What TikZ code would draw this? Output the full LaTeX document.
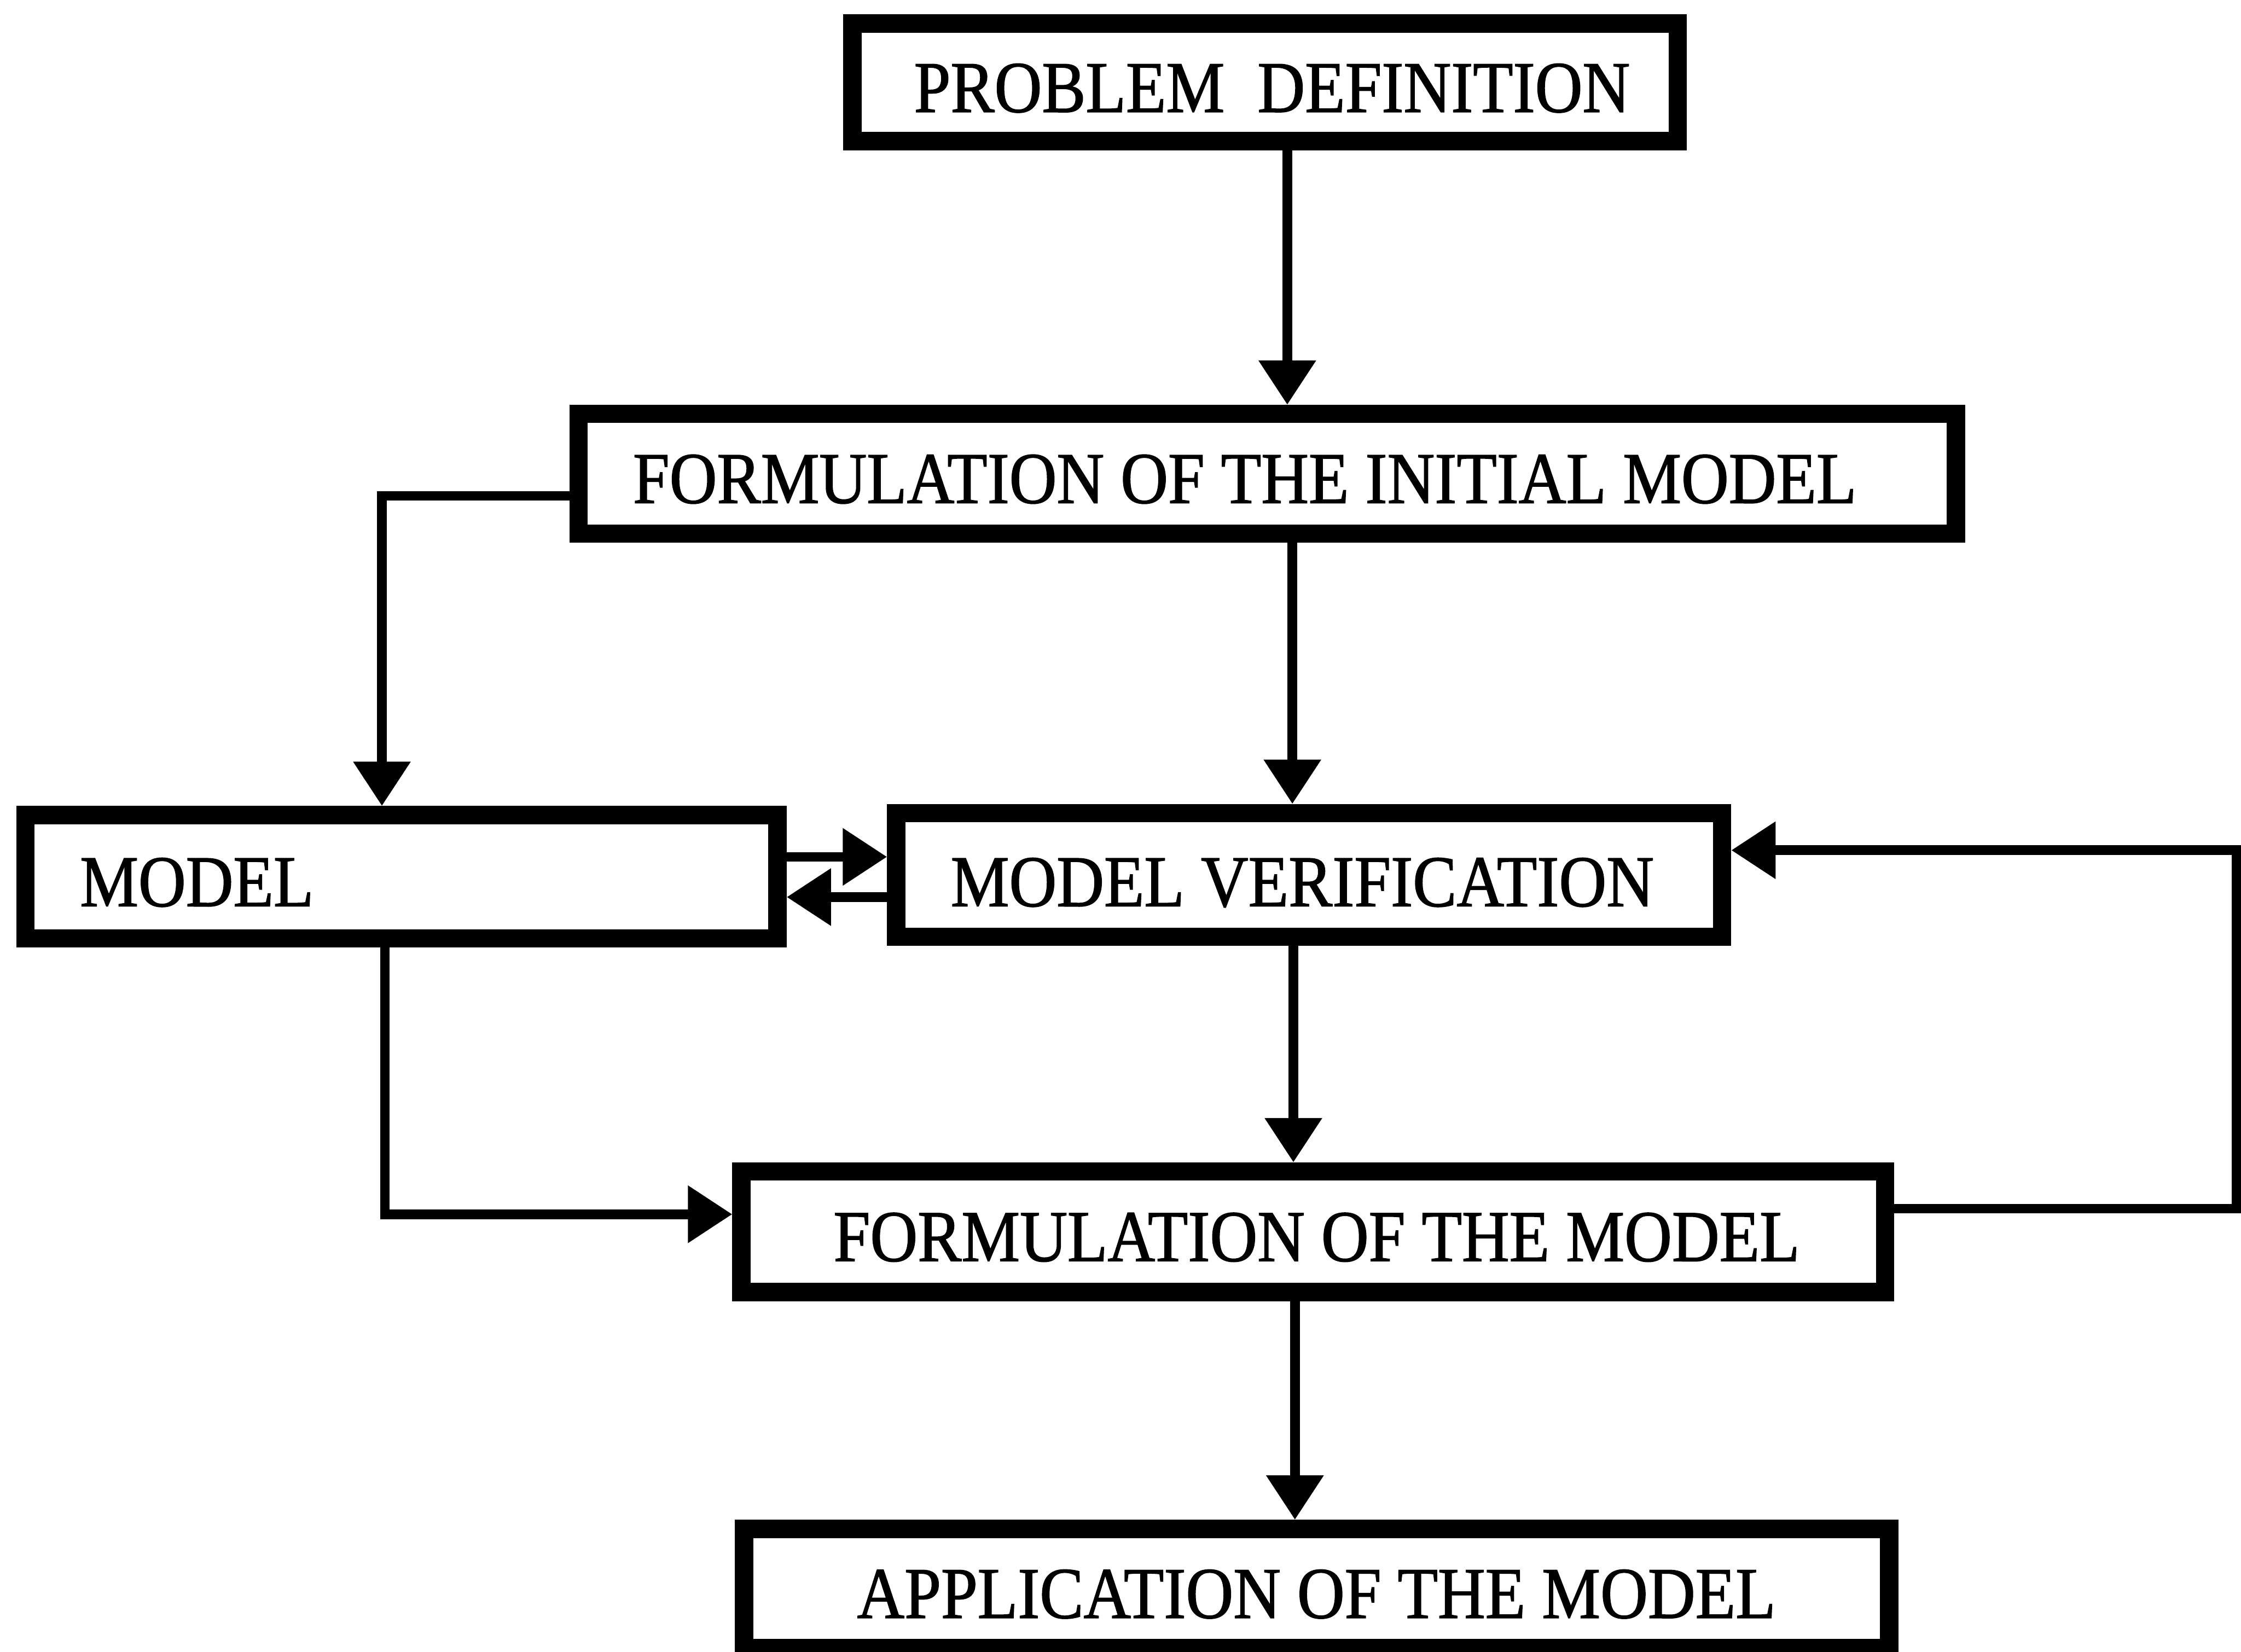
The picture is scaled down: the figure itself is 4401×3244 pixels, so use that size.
\documentclass[tikz,border=0pt]{standalone}
\usepackage{fontspec}
\newfontfamily\boxfont[FakeStretch=0.9,FakeBold=1.2]{Liberation Serif}
\usetikzlibrary{arrows.meta}

\begin{document}
\begin{tikzpicture}[x=0.1pt,y=-0.1pt,
  stage/.style={draw=black, line width=3.6pt, rectangle, inner sep=0pt},
  caption/.style={anchor=base west, inner sep=0pt,
    font=\boxfont\fontsize{14.35pt}{16pt}\selectfont},
  flow/.style={line width=1.9pt, -{Triangle[length=8.7pt,width=10.8pt]}}]

% page frame
\useasboundingbox (0,0) rectangle (4401,3244);
\clip (0,0) rectangle (4401,3244);
\fill[white] (0,0) rectangle (4401,3244);

% stages
\node[stage, minimum width=162.1pt, minimum height=23.1pt] (pd)    at (2484.5,161.5) {};
\node[stage, minimum width=270.5pt, minimum height=23.5pt] (fim)   at (2488.5,930.5) {};
\node[stage, minimum width=147.7pt, minimum height=24.2pt] (model) at (788.5,1722)   {};
\node[stage, minimum width=162.2pt, minimum height=24.3pt] (mv)    at (2571,1718.5)  {};
\node[stage, minimum width=224.6pt, minimum height=23.7pt] (fm)    at (2579,2419.5)  {};
\node[stage, minimum width=224.9pt, minimum height=23.4pt] (am)    at (2585.5,3120)  {};

% stage captions
\node[caption] (pdt)    at (1793,220)  {PROBLEM\ \ DEFINITION};
\node[caption] (fimt)   at (1241,988)  {FORMULATION OF THE INITIAL MODEL};
\node[caption] (modelt) at (155,1780)  {MODEL};
\node[caption] (mvt)    at (1865,1780) {MODEL VERIFICATION};
\node[caption] (fmt)    at (1635,2477) {FORMULATION OF THE MODEL};
\node[caption] (amt)    at (1681,3178) {APPLICATION OF THE MODEL};

% routing points
\coordinate (c1) at (2528,0);
\coordinate (c2) at (2538,0);
\coordinate (c3) at (2540,0);
\coordinate (c4) at (2543,0);
\coordinate (k1) at (750,974);
\coordinate (k2) at (756,2385);
\coordinate (up) at (0,1683);
\coordinate (dn) at (0,1762);
\coordinate (rt) at (4392,0);
\coordinate (fb1) at (0,2374);
\coordinate (fb2) at (0,1670);

% main flow
\draw[flow] (c1 |- pd.south)  -- (c1 |- fim.north);
\draw[flow] (c2 |- fim.south) -- (c2 |- mv.north);
\draw[flow] (c3 |- mv.south)  -- (c3 |- fm.north);
\draw[flow] (c4 |- fm.south)  -- (c4 |- am.north);

% side branch through MODEL
\draw[flow] (k1 -| fim.west) -- (k1) -- (k1 |- model.north);
\draw[flow] (k2 |- model.south) -- (k2) -- (k2 -| fm.west);

% exchange between MODEL and MODEL VERIFICATION
\draw[flow] (up -| model.east) -- (up -| mv.west);
\draw[flow] (dn -| mv.west) -- (dn -| model.east);

% feedback loop
\draw[flow] (fb1 -| fm.east) -- (fb1 -| rt) -- (fb2 -| rt) -- (fb2 -| mv.east);
\end{tikzpicture}
\end{document}
